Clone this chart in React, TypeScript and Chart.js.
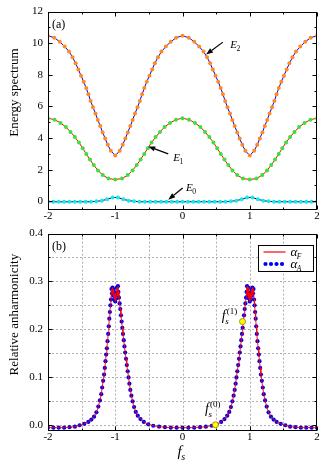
import React, { useEffect, useRef } from 'react';
import { Chart, registerables } from 'chart.js';
Chart.register(...registerables);

const SERIF = "'Liberation Serif', 'Times New Roman', serif";
Chart.defaults.font.family = SERIF;
Chart.defaults.color = '#000';

// ---------- axes / ticks ----------
const xTicks = [-2, -1, 0, 1, 2];
const xMinorTicks = [-1.5, -0.5, 0.5, 1.5];
const yTicksA = [0, 2, 4, 6, 8, 10, 12];
const yMinorTicksA = [1, 3, 5, 7, 9, 11];
const yTicksB = [0, 0.1, 0.2, 0.3, 0.4];
const yMinorTicksB = [0.05, 0.15, 0.25, 0.35];
const gridXB = [-1.5, -1, -0.5, 0, 0.5, 1, 1.5];
const gridYB = [0, 0.05, 0.1, 0.15, 0.2, 0.25, 0.3, 0.35];

// ---------- panel (a): energy spectrum ----------
const fsE2 = [-2, -1.906, -1.825, -1.752, -1.687, -1.635, -1.589, -1.549, -1.509, -1.469, -1.432, -1.399, -1.366, -1.331, -1.294, -1.259, -1.224, -1.187, -1.15, -1.111, -1.066, -1.0,
  -0.934, -0.889, -0.85, -0.813, -0.776, -0.741, -0.706, -0.669, -0.634, -0.601, -0.568, -0.531, -0.491, -0.451, -0.411, -0.365, -0.313, -0.248, -0.175, -0.094, 0,
  0.094, 0.175, 0.248, 0.313, 0.365, 0.411, 0.451, 0.491, 0.531, 0.568, 0.601, 0.634, 0.669, 0.706, 0.741, 0.776, 0.813, 0.85, 0.889, 0.934, 1.0,
  1.066, 1.111, 1.15, 1.187, 1.224, 1.259, 1.294, 1.331, 1.366, 1.399, 1.432, 1.469, 1.509, 1.549, 1.589, 1.635, 1.687, 1.752, 1.825, 1.906, 2];
const E2 = [10.47, 10.35, 10.09, 9.79, 9.47, 9.11, 8.73, 8.34, 7.95, 7.56, 7.16, 6.77, 6.35, 5.95, 5.55, 5.15, 4.76, 4.36, 3.97, 3.57, 3.2, 2.89,
  3.2, 3.57, 3.97, 4.36, 4.76, 5.15, 5.55, 5.95, 6.35, 6.77, 7.16, 7.56, 7.95, 8.34, 8.73, 9.11, 9.47, 9.79, 10.09, 10.35, 10.47,
  10.35, 10.09, 9.79, 9.47, 9.11, 8.73, 8.34, 7.95, 7.56, 7.16, 6.77, 6.35, 5.95, 5.55, 5.15, 4.76, 4.36, 3.97, 3.57, 3.2, 2.89,
  3.2, 3.57, 3.97, 4.36, 4.76, 5.15, 5.55, 5.95, 6.35, 6.77, 7.16, 7.56, 7.95, 8.34, 8.73, 9.11, 9.47, 9.79, 10.09, 10.35, 10.47];

const fsE1 = [-2, -1.903, -1.814, -1.734, -1.665, -1.6, -1.54, -1.484, -1.431, -1.376, -1.319, -1.257, -1.186, -1.1, -1.0,
  -0.9, -0.814, -0.743, -0.681, -0.624, -0.569, -0.516, -0.46, -0.4, -0.335, -0.266, -0.186, -0.097, 0,
  0.097, 0.186, 0.266, 0.335, 0.4, 0.46, 0.516, 0.569, 0.624, 0.681, 0.743, 0.814, 0.9, 1.0,
  1.1, 1.186, 1.257, 1.319, 1.376, 1.431, 1.484, 1.54, 1.6, 1.665, 1.734, 1.814, 1.903, 2];
const E1 = [5.26, 5.16, 4.96, 4.70, 4.39, 4.06, 3.72, 3.36, 3.0, 2.64, 2.29, 1.95, 1.66, 1.44, 1.38,
  1.44, 1.66, 1.95, 2.29, 2.64, 3.0, 3.36, 3.72, 4.06, 4.39, 4.70, 4.96, 5.16, 5.26,
  5.16, 4.96, 4.70, 4.39, 4.06, 3.72, 3.36, 3.0, 2.64, 2.29, 1.95, 1.66, 1.44, 1.38,
  1.44, 1.66, 1.95, 2.29, 2.64, 3.0, 3.36, 3.72, 4.06, 4.39, 4.70, 4.96, 5.16, 5.26];

const fsE0 = [-2, -1.92, -1.84, -1.76, -1.68, -1.6, -1.52, -1.44, -1.36, -1.28, -1.2, -1.12, -1.04, -0.96, -0.88, -0.8, -0.72,
  -0.64, -0.56, -0.48, -0.4, -0.32, -0.24, -0.16, -0.08, 0, 0.08, 0.16, 0.24, 0.32, 0.4, 0.48, 0.56, 0.64,
  0.72, 0.8, 0.88, 0.96, 1.04, 1.12, 1.2, 1.28, 1.36, 1.44, 1.52, 1.6, 1.68, 1.76, 1.84, 1.92, 2];
const E0 = [-0.03, -0.03, -0.03, -0.03, -0.03, -0.03, -0.03, -0.03, -0.03, 0.0, 0.04, 0.13, 0.24, 0.24, 0.13, 0.04, 0.0,
  -0.03, -0.03, -0.03, -0.03, -0.03, -0.03, -0.03, -0.03, -0.03, -0.03, -0.03, -0.03, -0.03, -0.03, -0.03, -0.03, -0.03,
  0.0, 0.04, 0.13, 0.24, 0.24, 0.13, 0.04, 0.0, -0.03, -0.03, -0.03, -0.03, -0.03, -0.03, -0.03, -0.03, -0.03];

// ---------- panel (b): relative anharmonicity ----------
const fsB = [-2.0, -1.92, -1.84, -1.76, -1.68, -1.6, -1.53, -1.46, -1.4, -1.355, -1.315, -1.28, -1.252, -1.228, -1.208, -1.194, -1.18, -1.166, -1.155, -1.145,
  -1.135, -1.125, -1.115, -1.105, -1.096, -1.088, -1.08, -1.072, -1.064, -1.056, -1.048, -1.04, -1.032, -1.024, -1.016, -1.008, -1.0, -0.992, -0.984, -0.976,
  -0.968, -0.96, -0.953, -0.945, -0.935, -0.925, -0.915, -0.905, -0.895, -0.885, -0.874, -0.863, -0.852, -0.84, -0.828, -0.815, -0.802, -0.79, -0.776, -0.76,
  -0.742, -0.72, -0.695, -0.665, -0.625, -0.575, -0.51, -0.435, -0.348, -0.261, -0.174, -0.087, 0,
  0.087, 0.174, 0.261, 0.348, 0.435, 0.51, 0.575, 0.625, 0.665, 0.695, 0.72, 0.742, 0.76, 0.776, 0.79, 0.802, 0.815, 0.828, 0.84, 0.852,
  0.863, 0.874, 0.885, 0.895, 0.905, 0.915, 0.925, 0.935, 0.945, 0.953, 0.96, 0.968, 0.976, 0.984, 0.992, 1.0, 1.008, 1.016, 1.024, 1.032,
  1.04, 1.048, 1.056, 1.064, 1.072, 1.08, 1.088, 1.096, 1.105, 1.115, 1.125, 1.135, 1.145, 1.155, 1.166, 1.18, 1.194, 1.208, 1.228, 1.252,
  1.28, 1.315, 1.355, 1.4, 1.46, 1.53, 1.6, 1.68, 1.76, 1.84, 1.92, 2.0];
const alphaA = [-0.006, -0.006, -0.006, -0.006, -0.005, -0.004, -0.001, 0.002, 0.006, 0.011, 0.017, 0.026, 0.038, 0.051, 0.064, 0.078, 0.092, 0.105, 0.119, 0.133,
  0.147, 0.16, 0.175, 0.19, 0.206, 0.222, 0.236, 0.25, 0.262, 0.284, 0.275, 0.287, 0.27, 0.283, 0.262, 0.274, 0.258, 0.276, 0.265, 0.287,
  0.27, 0.29, 0.278, 0.266, 0.254, 0.242, 0.229, 0.216, 0.203, 0.19, 0.177, 0.164, 0.151, 0.138, 0.125, 0.112, 0.099, 0.086, 0.073, 0.061,
  0.049, 0.037, 0.027, 0.019, 0.012, 0.006, 0.001, -0.002, -0.004, -0.005, -0.006, -0.006, -0.006,
  -0.006, -0.006, -0.005, -0.004, -0.002, 0.001, 0.006, 0.012, 0.019, 0.027, 0.037, 0.049, 0.061, 0.073, 0.086, 0.099, 0.112, 0.125, 0.138, 0.151,
  0.164, 0.177, 0.19, 0.203, 0.216, 0.229, 0.242, 0.254, 0.266, 0.278, 0.29, 0.27, 0.287, 0.265, 0.276, 0.258, 0.274, 0.262, 0.283, 0.27,
  0.287, 0.275, 0.284, 0.262, 0.25, 0.236, 0.222, 0.206, 0.19, 0.175, 0.16, 0.147, 0.133, 0.119, 0.105, 0.092, 0.078, 0.064, 0.051, 0.038,
  0.026, 0.017, 0.011, 0.006, 0.002, -0.001, -0.004, -0.005, -0.006, -0.006, -0.006, -0.006];
const alphaF = alphaA; // analytic curve coincides with the numerical points
const markX = [0.49, 0.892];
const markY = [0.0, 0.216];

const pts = (xs: number[], ys: number[]) => xs.map((x, i) => ({ x, y: ys[i] }));

// ---------- drawing helpers ----------
function arrow(ctx: CanvasRenderingContext2D, x1: number, y1: number, x2: number, y2: number) {
  const ang = Math.atan2(y2 - y1, x2 - x1);
  const L = 7, W = 2.6;
  const bx = x2 - L * Math.cos(ang), by = y2 - L * Math.sin(ang);
  ctx.strokeStyle = '#000'; ctx.fillStyle = '#000'; ctx.lineWidth = 1.2;
  ctx.beginPath(); ctx.moveTo(x1, y1); ctx.lineTo(bx, by); ctx.stroke();
  ctx.beginPath(); ctx.moveTo(x2, y2);
  ctx.lineTo(bx + W * Math.sin(ang), by - W * Math.cos(ang));
  ctx.lineTo(bx - W * Math.sin(ang), by + W * Math.cos(ang));
  ctx.closePath(); ctx.fill();
}

function subText(ctx: CanvasRenderingContext2D, x: number, y: number, main: string, size: number,
  sub: string, subSize: number, subItalic: boolean, sup?: string) {
  ctx.fillStyle = '#000'; ctx.textAlign = 'left'; ctx.textBaseline = 'alphabetic';
  ctx.font = `italic ${size}px ${SERIF}`;
  ctx.fillText(main, x, y);
  const w = ctx.measureText(main).width;
  ctx.font = `${subItalic ? 'italic ' : ''}${subSize}px ${SERIF}`;
  ctx.fillText(sub, x + w - 0.5, y + subSize * 0.4);
  if (sup) {
    ctx.font = `${subSize}px ${SERIF}`;
    ctx.fillText(sup, x + w + 1, y - size * 0.45);
  }
}

function rotTitle(ctx: CanvasRenderingContext2D, text: string, cx: number, cy: number) {
  ctx.save();
  ctx.translate(cx, cy); ctx.rotate(-Math.PI / 2);
  ctx.font = `13px ${SERIF}`; ctx.fillStyle = '#000';
  ctx.textAlign = 'center'; ctx.textBaseline = 'middle';
  ctx.fillText(text, 0, 0);
  ctx.restore();
}

function framePlugin(cfg: { gridX?: number[]; gridY?: number[]; majX: number[]; minX: number[]; majY: number[]; minY: number[];
  annotate: (chart: any, ctx: CanvasRenderingContext2D) => void }) {
  return {
    id: 'frameTicks',
    beforeDatasetsDraw(chart: any) {
      const { ctx, chartArea: a, scales } = chart;
      const x = scales.x, y = scales.y;
      ctx.save();
      ctx.strokeStyle = '#b0b0b0'; ctx.lineWidth = 1; ctx.setLineDash([2, 2]);
      (cfg.gridX || []).forEach(v => {
        const p = Math.round(x.getPixelForValue(v)) + 0.5;
        ctx.beginPath(); ctx.moveTo(p, a.top); ctx.lineTo(p, a.bottom); ctx.stroke();
      });
      (cfg.gridY || []).forEach(v => {
        const p = Math.round(y.getPixelForValue(v)) + 0.5;
        ctx.beginPath(); ctx.moveTo(a.left, p); ctx.lineTo(a.right, p); ctx.stroke();
      });
      ctx.restore();
    },
    afterDatasetsDraw(chart: any) {
      const { ctx, chartArea: a, scales } = chart;
      const x = scales.x, y = scales.y;
      ctx.save();
      ctx.strokeStyle = '#000'; ctx.lineWidth = 1; ctx.setLineDash([]);
      const L = Math.round(a.left) + 0.5, R = Math.round(a.right) - 0.5;
      const T = Math.round(a.top) + 0.5, B = Math.round(a.bottom) - 0.5;
      ctx.strokeRect(L, T, R - L, B - T);
      const tx = (vals: number[], len: number) => vals.forEach(v => {
        const p = Math.round(x.getPixelForValue(v)) + 0.5;
        ctx.beginPath(); ctx.moveTo(p, B); ctx.lineTo(p, B - len); ctx.moveTo(p, T); ctx.lineTo(p, T + len); ctx.stroke();
      });
      const ty = (vals: number[], len: number) => vals.forEach(v => {
        const p = Math.round(y.getPixelForValue(v)) + 0.5;
        ctx.beginPath(); ctx.moveTo(L, p); ctx.lineTo(L + len, p); ctx.moveTo(R, p); ctx.lineTo(R - len, p); ctx.stroke();
      });
      tx(cfg.majX, 4); tx(cfg.minX, 2);
      ty(cfg.majY, 4); ty(cfg.minY, 2);
      cfg.annotate(chart, ctx);
      ctx.restore();
    },
  };
}

function baseOptions(ymin: number, ymax: number, yTicks: number[], yFmt: (v: number) => string, padTop: number, xH: number) {
  return {
    animation: false as const,
    responsive: false,
    maintainAspectRatio: false,
    events: [] as any[],
    layout: { padding: { top: padTop, right: 8, left: 0, bottom: 0 } },
    plugins: { legend: { display: false }, tooltip: { enabled: false } },
    scales: {
      x: {
        type: 'linear' as const, min: -2, max: 2,
        grid: { display: false, drawTicks: false }, border: { display: false },
        afterBuildTicks: (s: any) => { s.ticks = xTicks.map(v => ({ value: v })); },
        afterFit: (s: any) => { s.height = xH; },
        ticks: { autoSkip: false, maxRotation: 0, padding: 0, color: '#000', font: { size: 11, family: SERIF },
          callback: (v: any) => String(v) },
      },
      y: {
        type: 'linear' as const, min: ymin, max: ymax,
        grid: { display: false, drawTicks: false }, border: { display: false },
        afterBuildTicks: (s: any) => { s.ticks = yTicks.map(v => ({ value: v })); },
        afterFit: (s: any) => { s.width = 48; },
        ticks: { autoSkip: false, padding: 5, color: '#000', font: { size: 11, family: SERIF },
          callback: (v: any) => yFmt(Number(v)) },
      },
    },
  };
}

export default function App() {
  const topRef = useRef<HTMLCanvasElement>(null);
  const botRef = useRef<HTMLCanvasElement>(null);

  useEffect(() => {
    const topChart = new Chart(topRef.current as HTMLCanvasElement, {
      type: 'line',
      data: {
        datasets: [
          { data: pts(fsE2, E2), borderColor: '#0000ff', borderWidth: 1, pointRadius: 2, pointBackgroundColor: '#ff8a1f', pointBorderWidth: 0, tension: 0 },
          { data: pts(fsE1, E1), borderColor: '#ff0000', borderWidth: 1, pointRadius: 2, pointBackgroundColor: '#3ce03c', pointBorderWidth: 0, tension: 0 },
          { data: pts(fsE0, E0), borderColor: '#000000', borderWidth: 1, pointRadius: 2, pointBackgroundColor: '#17e4f5', pointBorderWidth: 0, tension: 0 },
        ] as any,
      },
      options: baseOptions(-0.55, 12, yTicksA, v => String(v), 10, 22) as any,
      plugins: [framePlugin({
        majX: xTicks, minX: xMinorTicks, majY: yTicksA, minY: yMinorTicksA,
        annotate: (chart, ctx) => {
          const a = chart.chartArea, x = chart.scales.x, y = chart.scales.y;
          const P = (fx: number, fy: number) => [x.getPixelForValue(fx), y.getPixelForValue(fy)];
          ctx.fillStyle = '#000'; ctx.font = `12px ${SERIF}`; ctx.textAlign = 'left'; ctx.textBaseline = 'alphabetic';
          ctx.fillText('(a)', a.left + 4, a.top + 16);
          let t = P(0.6, 10.07), h = P(0.35, 9.28); arrow(ctx, t[0], t[1], h[0], h[1]);
          let l = P(0.709, 9.69); subText(ctx, l[0], l[1], 'E', 11, '2', 7.5, false);
          t = P(-0.212, 3.0); h = P(-0.51, 3.47); arrow(ctx, t[0], t[1], h[0], h[1]);
          l = P(-0.137, 2.58); subText(ctx, l[0], l[1], 'E', 11, '1', 7.5, false);
          t = P(0.003, 0.84); h = P(-0.212, 0.1); arrow(ctx, t[0], t[1], h[0], h[1]);
          l = P(0.052, 0.66); subText(ctx, l[0], l[1], 'E', 11, '0', 7.5, false);
          rotTitle(ctx, 'Energy spectrum', 15, a.top + 81);
        },
      })],
    });

    const botChart = new Chart(botRef.current as HTMLCanvasElement, {
      type: 'line',
      data: {
        datasets: [
          { data: pts(fsB, alphaF), borderColor: '#ff0000', borderWidth: 0.9, pointRadius: 0, tension: 0, order: 1 },
          { data: pts(fsB, alphaA), showLine: false, pointRadius: 2.1, pointBackgroundColor: '#0000f0', pointBorderWidth: 0, order: 2 },
          { data: pts(markX, markY), showLine: false, pointRadius: 3, pointBackgroundColor: '#ffff00', pointBorderColor: '#8c8000', pointBorderWidth: 0.8, order: 0 },
        ] as any,
      },
      options: baseOptions(-0.013, 0.4, yTicksB, v => v.toFixed(1), 8, 35) as any,
      plugins: [framePlugin({
        gridX: gridXB, gridY: gridYB,
        majX: xTicks, minX: xMinorTicks, majY: yTicksB, minY: yMinorTicksB,
        annotate: (chart, ctx) => {
          const a = chart.chartArea, x = chart.scales.x, y = chart.scales.y;
          const P = (fx: number, fy: number) => [x.getPixelForValue(fx), y.getPixelForValue(fy)];
          ctx.fillStyle = '#000'; ctx.font = `12px ${SERIF}`; ctx.textAlign = 'left'; ctx.textBaseline = 'alphabetic';
          ctx.fillText('(b)', a.left + 4, a.top + 16);
          // legend
          const bx = Math.round(a.right - 59) + 0.5, by = Math.round(a.top + 11) + 0.5;
          ctx.fillStyle = '#fff'; ctx.fillRect(bx, by, 55, 26);
          ctx.strokeStyle = '#000'; ctx.lineWidth = 1; ctx.strokeRect(bx, by, 55, 26);
          ctx.strokeStyle = '#ff0000'; ctx.lineWidth = 1.2;
          ctx.beginPath(); ctx.moveTo(bx + 5, by + 6.5); ctx.lineTo(bx + 27, by + 6.5); ctx.stroke();
          ctx.fillStyle = '#0000f0';
          [bx + 7, bx + 12.5, bx + 18, bx + 23.5].forEach(px => { ctx.beginPath(); ctx.arc(px, by + 18.5, 2.1, 0, Math.PI * 2); ctx.fill(); });
          subText(ctx, bx + 32, by + 10.5, '\u03b1', 13, 'F', 7.5, true);
          subText(ctx, bx + 32, by + 22.5, '\u03b1', 13, 'A', 7.5, true);
          // f_s markers labels
          let l = P(0.584, 0.219); subText(ctx, l[0], l[1], 'f', 14, 's', 9, true, '(1)');
          l = P(0.335, 0.024); subText(ctx, l[0], l[1], 'f', 14, 's', 9, true, '(0)');
          // axis titles
          rotTitle(ctx, 'Relative anharmonicity', 15, a.top + 81);
          subText(ctx, (a.left + a.right) / 2 - 5, a.bottom + 25, 'f', 15, 's', 10, true);
        },
      })],
    });

    return () => { topChart.destroy(); botChart.destroy(); };
  }, []);

  return (
    <div style={{ position: 'absolute', left: 0, top: 0, width: 325, height: 466, background: '#fff' }}>
      <canvas ref={topRef} width={325} height={232} style={{ position: 'absolute', left: 0, top: 0, width: 325, height: 232 }} />
      <canvas ref={botRef} width={325} height={244} style={{ position: 'absolute', left: 0, top: 222, width: 325, height: 244 }} />
    </div>
  );
}
